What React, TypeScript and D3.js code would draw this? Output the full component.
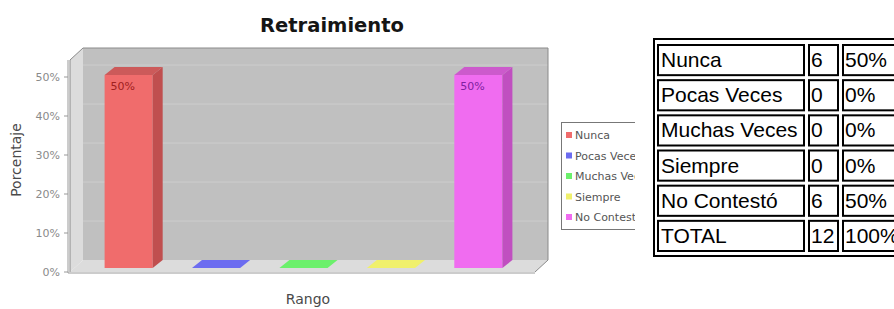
import React from 'react';
import { scaleBand, scaleLinear, range } from 'd3';

const categories = ['Nunca', 'Pocas Veces', 'Muchas Veces', 'Siempre', 'No Contestó'];
const percentages = [0.5, 0, 0, 0, 0.5];
const counts = ['6', '0', '0', '0', '6', '12'];
const percentLabels = ['50%', '0%', '0%', '0%', '50%', '100%'];
const tableLabels = [...categories, 'TOTAL'];
const yTicks = [0, 0.1, 0.2, 0.3, 0.4, 0.5];

const fronts = ['#f06c6c', '#6c6cf0', '#6cf06c', '#f0f06c', '#f06cf0'];
const sides = ['#c04f4f', '#4f4fc0', '#4fc04f', '#c0c04f', '#c04fc0'];
const tops = ['#cc5a5a', '#5a5acc', '#5acc5a', '#e0e05a', '#cc5acc'];
const labelColors = ['#a02020', '#2020a0', '#20a020', '#a0a020', '#8020a0'];

const W = 894;
const H = 309;

// front plane of the plot
const left = 70;
const right = 535;
const top = 60;
const bottom = 272;
// wall depth
const wdx = 13;
const wdy = 12;
// bar depth
const bdx = 10;
const bdy = 8;

export default function App() {
  const y = scaleLinear().domain([0, 0.5]).range([bottom, 77]);
  const x = scaleBand<string>()
    .domain(categories)
    .range([74, 533])
    .paddingInner(0.45)
    .paddingOuter(0.35);
  const bw = x.bandwidth();

  const rowScale = scaleBand<number>().domain(range(tableLabels.length)).range([42, 253]);
  const cols = [
    { x: 657, w: 148, tx: 661 },
    { x: 808, w: 31, tx: 811 },
    { x: 842, w: 80, tx: 845 },
  ];

  return (
    <svg width={W} height={H} style={{ position: 'fixed', left: 0, top: 0, background: '#fff' }}>
      <defs>
        <clipPath id="legendClip">
          <rect x={540} y={100} width={95} height={150} />
        </clipPath>
      </defs>

      {/* title */}
      <text x={332} y={32} textAnchor="middle" fontFamily="DejaVu Sans" fontWeight="bold" fontSize={19.5} fill="#151515">
        Retraimiento
      </text>

      {/* walls */}
      <rect x={left + wdx} y={top - wdy} width={right - left} height={bottom - top} fill="#c0c0c0" />
      <polygon
        points={`${left},${top} ${left + wdx},${top - wdy} ${left + wdx},${bottom - wdy} ${left},${bottom}`}
        fill="#dcdcdc"
      />
      <polygon
        points={`${left},${bottom} ${left + wdx},${bottom - wdy} ${right + wdx},${bottom - wdy} ${right},${bottom}`}
        fill="#dcdcdc"
      />
      {yTicks.slice(1).map((t) => (
        <line key={t} x1={left + wdx} x2={right + wdx} y1={y(t) - wdy} y2={y(t) - wdy} stroke="#cdcdcd" strokeWidth={1} />
      ))}
      <path
        d={`M${left},${bottom} L${left},${top} L${left + wdx},${top - wdy} L${right + wdx},${top - wdy} L${right + wdx},${bottom - wdy} L${right},${bottom}`}
        fill="none"
        stroke="#8a8a8a"
        strokeWidth={1}
      />

      {/* bars */}
      {categories.map((c, i) => {
        const x0 = x(c)!;
        const x1 = x0 + bw;
        const yb = y(0) - 4;
        const yt = Math.min(y(percentages[i]) - 2, yb);
        return (
          <g key={c}>
            {yt < yb && <rect x={x0} y={yt} width={bw} height={yb - yt} fill={fronts[i]} />}
            {yt < yb && (
              <polygon points={`${x1},${yt} ${x1 + bdx},${yt - bdy} ${x1 + bdx},${yb - bdy} ${x1},${yb}`} fill={sides[i]} />
            )}
            <polygon
              points={`${x0},${yt} ${x0 + bdx},${yt - bdy} ${x1 + bdx},${yt - bdy} ${x1},${yt}`}
              fill={yt < yb ? tops[i] : fronts[i]}
            />
            {percentages[i] > 0 && (
              <text x={x0 + 6} y={yt + 15} fontFamily="DejaVu Sans" fontSize={11} fill={labelColors[i]}>
                {Math.round(percentages[i] * 100)}%
              </text>
            )}
          </g>
        );
      })}

      {/* axes */}
      <line x1={left - 2} x2={left - 2} y1={top} y2={bottom + 1} stroke="#999" />
      <line x1={left - 2} x2={right} y1={bottom + 1} y2={bottom + 1} stroke="#999" />
      {yTicks.map((t) => (
        <g key={t}>
          <line x1={left - 6} x2={left - 2} y1={y(t)} y2={y(t)} stroke="#999" />
          <text x={60} y={y(t) + 4} textAnchor="end" fontFamily="DejaVu Sans" fontSize={11} fill="#8a8a8a">
            {Math.round(t * 100)}%
          </text>
        </g>
      ))}
      <text
        transform="translate(21,160) rotate(-90)"
        textAnchor="middle"
        fontFamily="DejaVu Sans"
        fontSize={14}
        fill="#4a4a4a"
      >
        Porcentaje
      </text>
      <text x={308} y={304} textAnchor="middle" fontFamily="DejaVu Sans" fontSize={14} fill="#4a4a4a">
        Rango
      </text>

      {/* legend */}
      <g clipPath="url(#legendClip)">
        <rect x={561.5} y={122.5} width={100} height={107} fill="#fff" stroke="#777" />
        {categories.map((c, i) => {
          const ly = 135 + i * 20.5;
          return (
            <g key={c}>
              <rect x={566} y={ly - 3} width={6} height={6} fill={fronts[i]} />
              <text x={575} y={ly + 4} fontFamily="DejaVu Sans" fontSize={11} fill="#555">
                {c}
              </text>
            </g>
          );
        })}
      </g>

      {/* table */}
      <rect x={654} y={39} width={300} height={217} fill="#fff" stroke="#000" strokeWidth={2} />
      {tableLabels.map((lab, r) => {
        const ry = rowScale(r)!;
        const rh = rowScale.bandwidth();
        const cells = [lab, counts[r], percentLabels[r]];
        return (
          <g key={lab}>
            {cols.map((col, ci) => (
              <g key={ci}>
                <rect x={col.x + 1} y={ry + 3} width={col.w - 2} height={rh - 5} fill="none" stroke="#000" strokeWidth={2} />
                <text x={col.tx} y={ry + 25} fontFamily="Liberation Sans" fontSize={21} fill="#000">
                  {cells[ci]}
                </text>
              </g>
            ))}
          </g>
        );
      })}
    </svg>
  );
}
